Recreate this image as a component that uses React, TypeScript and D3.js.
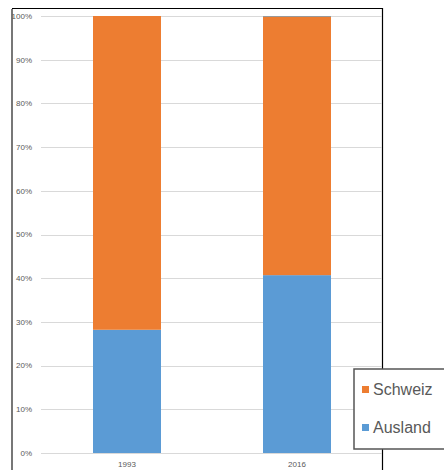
import React from "react";
import * as d3 from "d3";

const categories = ["1993", "2016"];
const seriesNames = ["Ausland", "Schweiz"];
const auslandValues = [0.282, 0.407];
const schweizValues = [0.718, 0.593];
const yTicks = [0, 0.1, 0.2, 0.3, 0.4, 0.5, 0.6, 0.7, 0.8, 0.9, 1.0];
const colors = { Ausland: "#5B9BD5", Schweiz: "#ED7D31" };

export default function App() {
  const W = 444, H = 470;
  const x = d3.scaleBand().domain(categories).range([42, 382]).paddingInner(0.6).paddingOuter(0.3);
  const y = d3.scaleLinear().domain([0, 1]).range([453, 16]);
  const rows = categories.map((c, i) => ({ cat: c, Ausland: auslandValues[i], Schweiz: schweizValues[i] }));
  const stack = d3.stack<any>().keys(seriesNames)(rows);
  const fmt = d3.format(".0%");
  const font = "'Liberation Sans', Arial, sans-serif";
  return (
    <svg width={W} height={H} style={{ position: "absolute", left: 0, top: 0, background: "#fff" }}>
      <rect x={0} y={0} width={W} height={H} fill="#fff" />
      {/* frame */}
      <line x1={12} x2={382.5} y1={8.5} y2={8.5} stroke="#000" strokeWidth={1.2} />
      <line x1={382.5} x2={382.5} y1={8} y2={H} stroke="#000" strokeWidth={1.2} />
      <line x1={12} x2={12} y1={9} y2={H} stroke="#777" strokeWidth={2} />
      {/* gridlines */}
      {yTicks.map((t) => (
        <g key={t}>
          <line x1={41} x2={382} y1={Math.round(y(t)) + 0.5} y2={Math.round(y(t)) + 0.5} stroke="#d9d9d9" strokeWidth={1} />
          <text x={32} y={y(t)} dy="0.35em" textAnchor="end" fontSize={8} fill="#595959" fontFamily={font}>
            {fmt(t)}
          </text>
        </g>
      ))}
      {/* bars */}
      {stack.map((s) => (
        <g key={s.key} fill={(colors as any)[s.key]}>
          {s.map((d, i) => (
            <rect
              key={i}
              x={x(categories[i])!}
              width={x.bandwidth()}
              y={y(d[1])}
              height={y(d[0]) - y(d[1])}
            />
          ))}
        </g>
      ))}
      <line x1={x("2016")!} x2={x("2016")! + x.bandwidth()} y1={16.5} y2={16.5} stroke="#999" strokeWidth={1} />
      {/* x labels */}
      {categories.map((c) => (
        <text key={c} x={x(c)! + x.bandwidth() / 2} y={467} textAnchor="middle" fontSize={8} fill="#595959" fontFamily={font}>
          {c}
        </text>
      ))}
      {/* legend */}
      <rect x={354} y={369} width={100} height={80} fill="#fff" stroke="#555" strokeWidth={1.5} />
      {["Schweiz", "Ausland"].map((k, i) => (
        <g key={k}>
          <rect x={362} y={386 + i * 38} width={7} height={7} fill={(colors as any)[k]} />
          <text x={373} y={395 + i * 37.5} fontSize={16} fill="#595959" fontFamily={font}>
            {k}
          </text>
        </g>
      ))}
    </svg>
  );
}
